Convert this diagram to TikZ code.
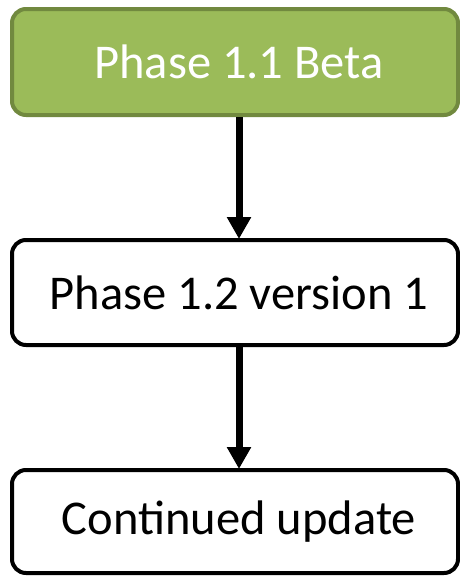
\documentclass[tikz,border=0pt]{standalone}
\usepackage{fontspec}
\setmainfont{Carlito}
\usetikzlibrary{arrows.meta}
\definecolor{phasegreen}{HTML}{9BBB59}
\definecolor{phaseedge}{HTML}{71893F}
\begin{document}
\begin{tikzpicture}[x=1pt,y=-1pt,
  stage/.style={rectangle, rounded corners=14pt, line width=4pt, draw=black, fill=white,
    minimum width=446pt, inner sep=0pt, font=\fontsize{48.5}{58}\selectfont},
  flow/.style={line width=7pt, -{Triangle[width=23pt,length=22pt]}}]
\useasboundingbox (0,0) rectangle (460,576);
\node[stage, minimum height=106pt, fill=phasegreen, draw=phaseedge, text=white] (beta) at (235,62) {\hspace*{8pt}Phase 1.1 Beta};
\node[stage, minimum height=105pt] (v1) at (235,292.5) {\hspace*{8pt}Phase 1.2 version 1};
\node[stage, minimum height=103pt] (upd) at (235,521.5) {\hspace*{8pt}Continued update};
\draw[flow] ([xshift=4pt]beta.south) -- ([xshift=4pt,yshift=-1pt]v1.north);
\draw[flow] ([xshift=4pt]v1.south) -- ([xshift=4pt,yshift=-1pt]upd.north);
\end{tikzpicture}
\end{document}
